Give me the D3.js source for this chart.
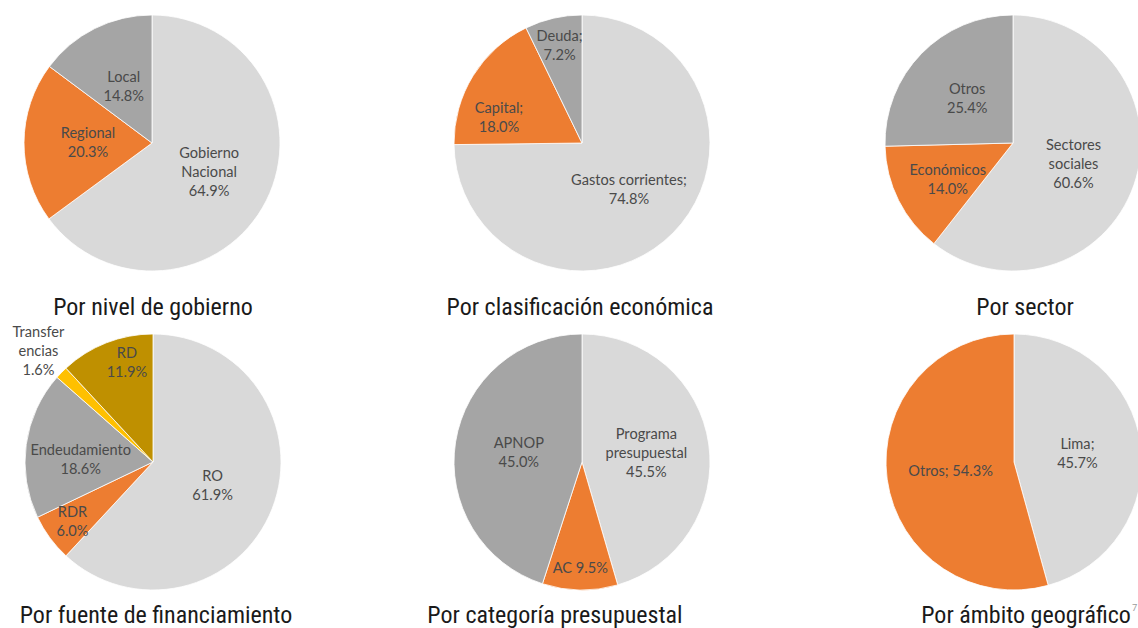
<!DOCTYPE html>
<html><head><meta charset="utf-8">
<script src="https://cdn.jsdelivr.net/npm/d3@7"></script>
<style>
html,body{margin:0;padding:0;background:#fff;overflow:hidden}
svg{display:block}
</style></head>
<body>
<svg id="chart" width="1138" height="628"></svg>
<script>
// ---- data ----
const titles = ["Por nivel de gobierno","Por clasificación económica","Por sector","Por fuente de financiamiento","Por categoría presupuestal","Por ámbito geográfico"];
const nivelLabels = [["Gobierno","Nacional"],["Regional"],["Local"]];
const nivelValues = [64.9, 20.3, 14.8];
const clasifLabels = [["Gastos corrientes;"],["Capital;"],["Deuda;"]];
const clasifValues = [74.8, 18.0, 7.2];
const sectorLabels = [["Sectores","sociales"],["Económicos"],["Otros"]];
const sectorValues = [60.6, 14.0, 25.4];
const fuenteLabels = [["RO"],["RDR"],["Endeudamiento"],["Transfer","encias"],["RD"]];
const fuenteValues = [61.9, 6.0, 18.6, 1.6, 11.9];
const categLabels = [["Programa","presupuestal"],["AC"],["APNOP"]];
const categValues = [45.5, 9.5, 45.0];
const ambitoLabels = [["Lima;"],["Otros;"]];
const ambitoValues = [45.7, 54.3];

// ---- styling / layout ----
const C = {light:"#d9d9d9", orange:"#ed7d31", gray:"#a5a5a5", yellow:"#ffc000", gold:"#bf9000"};
const pies = [
  {labels:nivelLabels, values:nivelValues, colors:[C.light,C.orange,C.gray], cx:152, cy:143, title:0, tx:153, ty:315,
   lab:[{r:64},{r:64},{r:63}]},
  {labels:clasifLabels, values:clasifValues, colors:[C.light,C.orange,C.gray], cx:582, cy:143, title:1, tx:580, ty:315,
   lab:[{r:66},{r:87,dx:-9,dy:20},{r:100}]},
  {labels:sectorLabels, values:sectorValues, colors:[C.light,C.orange,C.gray], cx:1013, cy:143, title:2, tx:1025, ty:315,
   lab:[{r:64},{r:73,dy:4},{r:64}]},
  {labels:fuenteLabels, values:fuenteValues, colors:[C.light,C.orange,C.gray,C.yellow,C.gold], cx:153, cy:462, title:3, tx:156, ty:623,
   lab:[{r:64},{r:100},{r:73,dy:8},{r:160,dy:1},{r:107,dx:13}]},
  {labels:categLabels, values:categValues, colors:[C.light,C.orange,C.gray], cx:582, cy:462, title:4, tx:555, ty:623,
   lab:[{r:65},{r:106,inline:true},{r:64}]},
  {labels:ambitoLabels, values:ambitoValues, colors:[C.light,C.orange], cx:1014, cy:462, title:5, tx:1026, ty:623,
   lab:[{r:64},{r:64,inline:true}]}
];
const R = 128;
const svg = d3.select("#chart");
const arc = d3.arc().innerRadius(0).outerRadius(R);
const pieGen = d3.pie().sort(null).value(d => d);

pies.forEach(p => {
  const g = svg.append("g").attr("transform", `translate(${p.cx},${p.cy})`);
  const arcs = pieGen(p.values);
  g.selectAll("path").data(arcs).join("path")
    .attr("d", arc)
    .attr("fill", (d,i) => p.colors[i])
    .attr("stroke", "#fff").attr("stroke-width", 0.8);
  arcs.forEach((d,i) => {
    const L = p.lab[i];
    const a = (d.startAngle + d.endAngle)/2;
    const x = Math.sin(a)*L.r + (L.dx||0);
    const y = -Math.cos(a)*L.r + (L.dy||0);
    const pct = p.values[i].toFixed(1) + "%";
    let lines = L.inline ? [p.labels[i].join(" ") + " " + pct] : p.labels[i].concat([pct]);
    const lh = 19;
    const t = g.append("text")
      .attr("text-anchor","middle")
      .attr("font-family","Lato, 'Open Sans', sans-serif")
      .attr("font-size", 14.6)
      .attr("fill", "#4a4a4a");
    lines.forEach((ln, k) => {
      t.append("tspan").attr("x", x)
        .attr("y", y + (k - (lines.length-1)/2)*lh + 5)
        .text(ln);
    });
  });
  svg.append("text")
    .attr("x", p.tx).attr("y", p.ty)
    .attr("text-anchor","middle")
    .attr("font-family","'Liberation Sans Narrow','Arial Narrow','Roboto Condensed',Roboto,sans-serif")
    .attr("font-size", 24)
    .attr("fill", "#1a1a1a")
    .text(titles[p.title]);
});
svg.append("text").attr("x",1132).attr("y",611)
  .attr("font-family","Lato, sans-serif").attr("font-size",9).attr("fill","#9a9a9a").text("7");
</script>
</body></html>
